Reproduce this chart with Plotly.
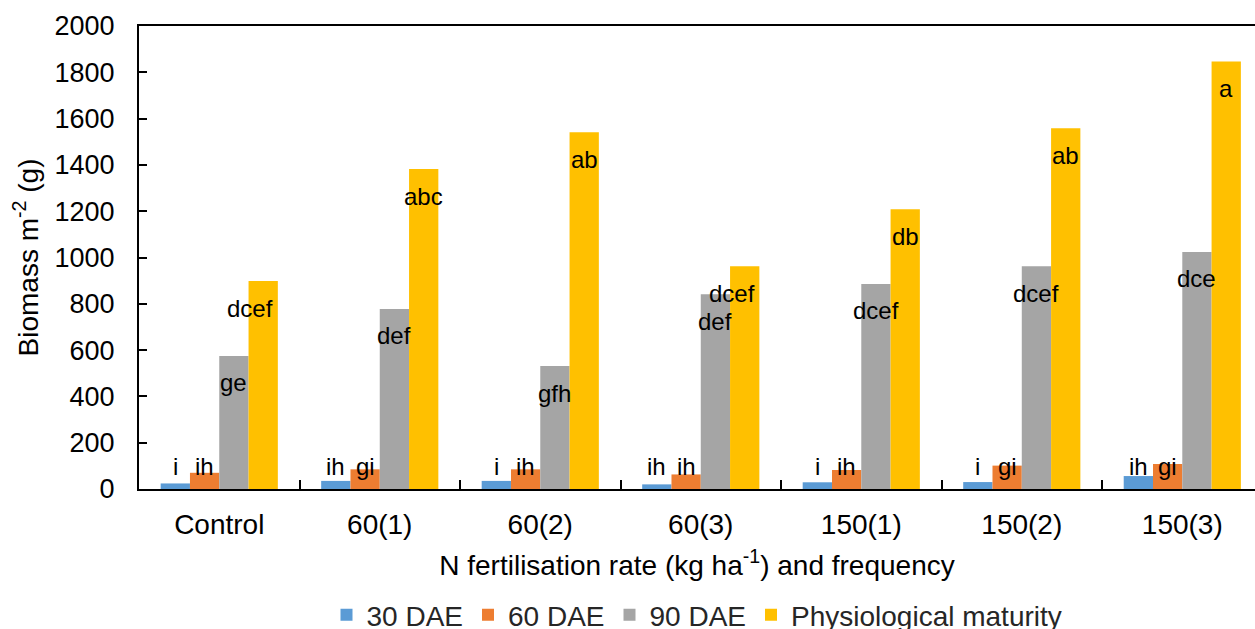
import plotly.graph_objects as go

# Treatments and sampling stages
categories = ["Control", "60(1)", "60(2)", "60(3)", "150(1)", "150(2)", "150(3)"]
series_names = ["30 DAE", "60 DAE", "90 DAE", "Physiological maturity"]

# Biomass (g m-2) per stage
biomass_30 = [24, 35, 35, 20, 29, 30, 56]
biomass_60 = [70, 85, 85, 63, 82, 101, 108]
biomass_90 = [575, 778, 531, 841, 886, 962, 1024]
biomass_pm = [898, 1382, 1541, 962, 1208, 1558, 1847]

# Mean-separation letters
letters_30 = ["i", "ih", "i", "ih", "i", "i", "ih"]
letters_60 = ["ih", "gi", "ih", "ih", "ih", "gi", "gi"]
letters_90 = ["ge", "def", "gfh", "def", "dcef", "dcef", "dce"]
letters_pm = ["dcef", "abc", "ab", "dcef", "db", "ab", "a"]

colors = ["#5B9BD5", "#ED7D31", "#A5A5A5", "#FFC000"]
FONT = "Liberation Sans, Arial, sans-serif"

values = [biomass_30, biomass_60, biomass_90, biomass_pm]
letters = [letters_30, letters_60, letters_90, letters_pm]

fig = go.Figure()
for name, vals, col in zip(series_names, values, colors):
    fig.add_trace(go.Bar(x=categories, y=vals, name=name,
                         marker=dict(color=col, line=dict(width=0))))

# Letter annotations: small-bar letters sit on a common line near the base,
# the taller bars carry theirs just inside the top.
n_series = len(series_names)
bar_px = 29.3
for s in range(n_series):
    offset = (s - (n_series - 1) / 2) * bar_px
    for i, cat in enumerate(categories):
        txt = letters[s][i]
        if s < 2:
            y, yshift = 0, 23
        else:
            y, yshift = values[s][i], -27
        nudge = -13 if (s == 3 and len(txt) == 4) else 0
        fig.add_annotation(x=cat, y=y, text=txt, showarrow=False,
                           xshift=offset + nudge, yshift=yshift,
                           xanchor="center", yanchor="middle",
                           font=dict(family=FONT, size=24, color="black"))

fig.update_layout(
    width=1255, height=629,
    margin=dict(l=139, r=0, t=26, b=140, autoexpand=False),
    paper_bgcolor="white", plot_bgcolor="white",
    barmode="group", bargap=0.27, bargroupgap=0,
    font=dict(family=FONT, size=28, color="black"),
    showlegend=True,
    legend=dict(orientation="h", x=0.5, xanchor="center", y=-0.272, yanchor="middle",
                font=dict(family=FONT, size=28, color="#262626"),
                itemsizing="constant", traceorder="normal"),
)
fig.update_xaxes(
    type="category", range=[-0.5, 6.453],
    showline=True, linecolor="black", linewidth=2, mirror=True,
    ticks="inside", ticklen=9, tickwidth=2, tickcolor="black",
    tickson="boundaries", ticklabelstandoff=9,
    tickfont=dict(family=FONT, size=28, color="black"),
    showgrid=False,
    title=dict(text="N fertilisation rate (kg ha<sup>-1</sup>) and frequency",
               font=dict(family=FONT, size=28, color="black"), standoff=17),
)
fig.update_yaxes(
    range=[0, 2000], dtick=200,
    showline=True, linecolor="black", linewidth=2,
    ticks="inside", ticklen=8, tickwidth=2, tickcolor="black",
    ticklabelstandoff=17,
    tickfont=dict(family=FONT, size=27, color="black"),
    showgrid=False, zeroline=False,
    title=dict(text="Biomass m<sup>-2</sup> (g)",
               font=dict(family=FONT, size=28, color="black"), standoff=8),
)

fig.write_html("out.html")
